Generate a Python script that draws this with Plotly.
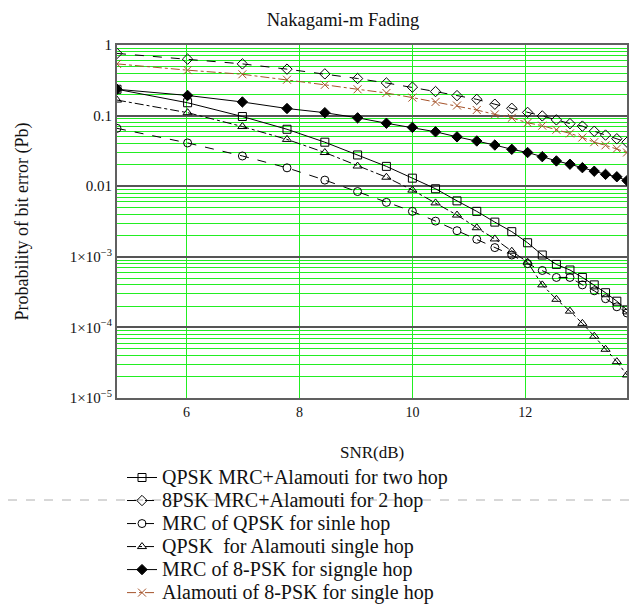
import plotly.graph_objects as go

# SNR values (dB)
snr_db = [4.77, 6.02, 6.99, 7.78, 8.45, 9.03, 9.54, 10.00, 10.41, 10.79, 11.14,
          11.46, 11.76, 12.04, 12.30, 12.55, 12.79, 13.01, 13.22, 13.42, 13.62, 13.80]

qpsk_mrc_alamouti_2hop = [0.236, 0.152, 0.097, 0.064, 0.042, 0.0277, 0.0191, 0.0130, 0.0092, 0.0062, 0.0044,
                          0.0031, 0.00227, 0.00158, 0.00106, 0.00078, 0.00065, 0.00051, 0.00040, 0.00031, 0.000235, 0.000177]
psk8_mrc_alamouti_2hop = [0.76, 0.63, 0.54, 0.455, 0.39, 0.335, 0.29, 0.253, 0.219, 0.192, 0.17,
                          0.145, 0.127, 0.111, 0.099, 0.087, 0.077, 0.071, 0.060, 0.053, 0.047, 0.042]
mrc_qpsk_single = [0.066, 0.041, 0.0268, 0.0182, 0.0122, 0.0084, 0.0059, 0.0044, 0.0032, 0.00234, 0.00177,
                   0.00135, 0.00106, 0.0008, 0.00064, 0.00051, 0.00051, 0.0004, 0.00033, 0.000255, 0.000196, 0.00016]
qpsk_alamouti_single = [0.166, 0.11, 0.070, 0.046, 0.030, 0.0193, 0.0134, 0.0088, 0.0058, 0.0039, 0.00258,
                        0.00179, 0.0012, 0.00084, 0.0004, 0.00025, 0.00017, 0.000114, 0.000075, 0.000049, 0.0000327, 0.0000212]
mrc_8psk_single = [0.236, 0.193, 0.156, 0.126, 0.11, 0.093, 0.078, 0.068, 0.059, 0.050, 0.0437,
                   0.0383, 0.0333, 0.030, 0.0262, 0.0228, 0.0205, 0.0183, 0.0163, 0.0147, 0.0136, 0.012]
alamouti_8psk_single = [0.54, 0.44, 0.385, 0.322, 0.273, 0.236, 0.209, 0.18, 0.156, 0.139, 0.12,
                        0.104, 0.093, 0.079, 0.072, 0.063, 0.056, 0.049, 0.042, 0.038, 0.034, 0.030]

series_names = [
    "QPSK MRC+Alamouti for two hop",
    "8PSK MRC+Alamouti for 2 hop",
    "MRC of QPSK for sinle hop",
    "QPSK\u00a0 for Alamouti single hop",
    "MRC of 8-PSK for signgle hop",
    "Alamouti of 8-PSK for single hop",
]
series_values = [qpsk_mrc_alamouti_2hop, psk8_mrc_alamouti_2hop, mrc_qpsk_single,
                 qpsk_alamouti_single, mrc_8psk_single, alamouti_8psk_single]

y_tickvals = [1, 0.1, 0.01, 1e-3, 1e-4, 1e-5]
y_ticktext = ["1", "0.1", "0.01", "1×10<sup>−3</sup>", "1×10<sup>−4</sup>", "1×10<sup>−5</sup>"]
x_tickvals = [6, 8, 10, 12]

styles = [
    dict(color="black", dash="solid", symbol="square-open", size=8, mcolor="black"),
    dict(color="black", dash="dash", symbol="diamond-open", size=8, mcolor="black"),
    dict(color="black", dash="dash", symbol="circle-open", size=8, mcolor="black"),
    dict(color="black", dash="dashdot", symbol="triangle-up-open", size=8, mcolor="black"),
    dict(color="black", dash="solid", symbol="diamond", size=8, mcolor="black"),
    dict(color="#a5532a", dash="dashdot", symbol="x-thin-open", size=8, mcolor="#a5532a"),
]

serif = "Liberation Serif, Times New Roman, serif"
GREEN = "#22ee22"

fig = go.Figure()
for name, vals, st in zip(series_names, series_values, styles):
    fig.add_trace(go.Scatter(
        x=snr_db, y=vals,
        name='<span style="font-size:20px">' + name + '</span>',
        mode="lines+markers",
        line=dict(color=st["color"], width=1, dash=st["dash"]),
        marker=dict(symbol=st["symbol"], size=st["size"], color=st["mcolor"],
                    line=dict(color=st["mcolor"], width=1)),
    ))

minor_vals = [k * 10.0 ** e for e in range(-5, 0) for k in range(2, 10)]

# The page body adds an 8px offset; work in screen pixels and convert.
OFF = 8
W, H = 637 - OFF, 611 - OFF
PL, PR, PT, PB = 117, 627, 45, 398   # plot box in screen pixels


def fx(px):
    return (px - OFF) / W


def fy(py):
    return 1 - (py - OFF) / H


fig.update_layout(
    width=W, height=H,
    margin=dict(l=0, r=0, t=0, b=0),
    paper_bgcolor="white", plot_bgcolor="white",
    font=dict(family=serif, color="#111"),
    title=dict(text="Nakagami-m Fading", x=fx(343), xref="paper", xanchor="center",
               y=fy(20), yref="paper", yanchor="middle",
               font=dict(family=serif, size=18.5, color="#111")),
    showlegend=True,
    legend=dict(x=fx(122), xanchor="left", y=fy(461), yanchor="top",
                font=dict(family=serif, size=15.4, color="#111"),
                bgcolor="rgba(0,0,0,0)", borderwidth=0, itemwidth=30),
    xaxis=dict(domain=[fx(PL), fx(PR)], range=[4.77, 13.80], tickvals=x_tickvals,
               showgrid=True, gridcolor=GREEN, gridwidth=1,
               zeroline=False, showline=True, linecolor="#606060", linewidth=2, mirror=True,
               automargin=False,
               ticks="", tickfont=dict(family=serif, size=14, color="#111")),
    yaxis=dict(domain=[fy(PB), fy(PT)], type="log", range=[-5, 0], tickvals=y_tickvals, ticktext=y_ticktext,
               showgrid=True, gridcolor="#555555", gridwidth=1.5,
               minor=dict(tickmode="array", tickvals=minor_vals, showgrid=True,
                          gridcolor=GREEN, gridwidth=1, ticks=""),
               zeroline=False, showline=True, linecolor="#606060", linewidth=2, mirror=True,
               automargin=False,
               ticks="", tickfont=dict(family=serif, size=15, color="#111")),
    annotations=[
        dict(text="Probability of bit error (Pb)", textangle=-90, xref="paper", yref="paper",
             x=fx(22), y=fy((PT + PB) / 2), xanchor="center", yanchor="middle", showarrow=False,
             font=dict(family=serif, size=18, color="#111")),
        dict(text="SNR(dB)", xref="paper", yref="paper", x=fx((PL + PR) / 2), y=fy(452),
             xanchor="center", yanchor="middle", showarrow=False,
             font=dict(family=serif, size=17, color="#111")),
    ],
    shapes=[
        dict(type="line", xref="paper", yref="paper", x0=0, x1=1,
             y0=fy(500), y1=fy(500),
             line=dict(color="#b0b0b0", width=1, dash="dash")),
    ],
)

fig.write_html("out.html")
